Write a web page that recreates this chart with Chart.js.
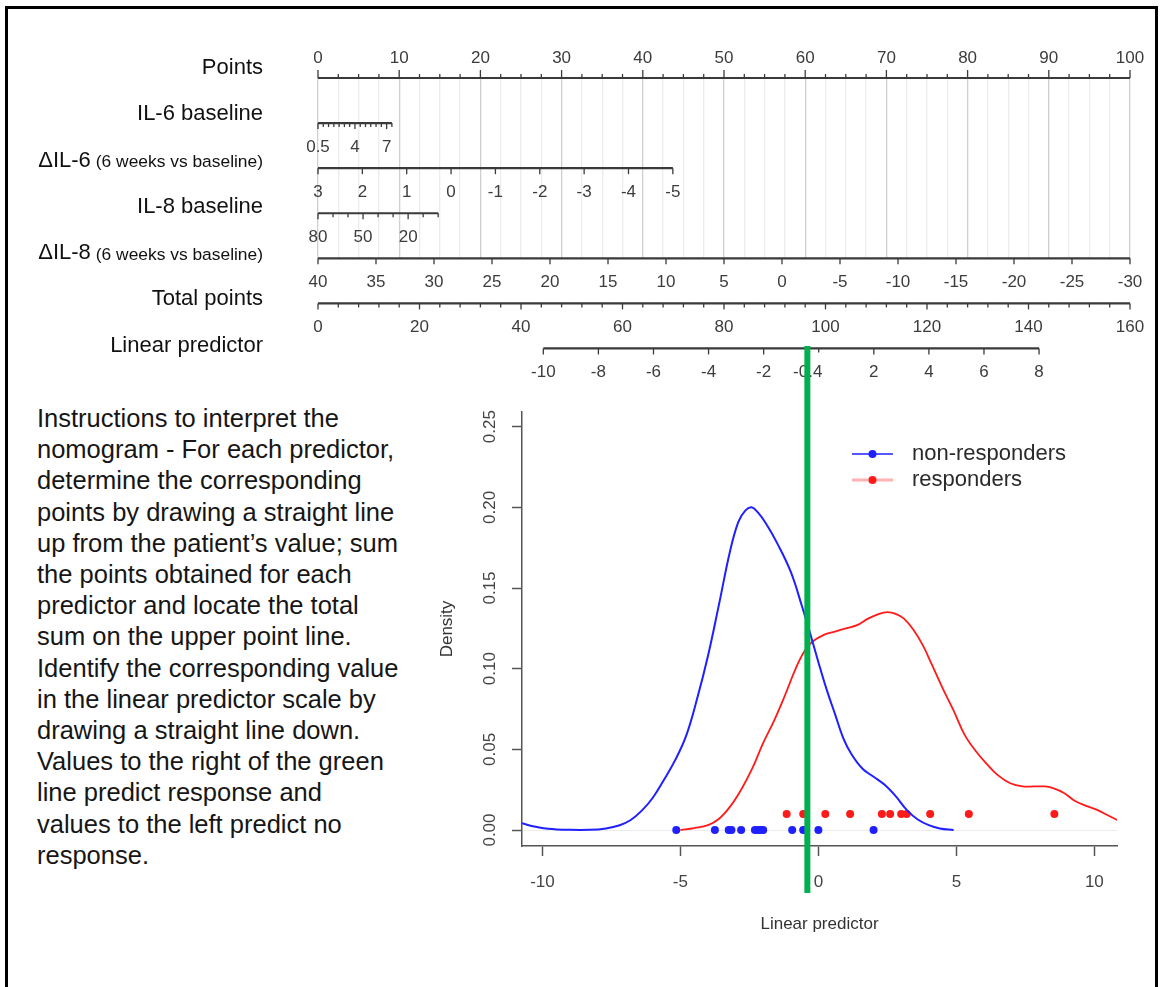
<!DOCTYPE html>
<html>
<head>
<meta charset="utf-8">
<title>Nomogram and density of the linear predictor</title>
<script src="https://cdn.jsdelivr.net/npm/chart.js@4.4.1/dist/chart.umd.min.js"></script>
<style>
  body { margin: 0; background: #fff; font-family: "Liberation Sans", Arial, sans-serif; }
  #frame { position: absolute; left: 5px; top: 6px; width: 1147px; height: 1000px; border: 3px solid #000; }
  #nomo { position: absolute; left: 0; top: 0; }
  #dens { position: absolute; left: 430px; top: 340px; }
  #notes { position: absolute; left: 37px; top: 403px; font-size: 25.5px; line-height: 31.2px; color: #161616; }
</style>
</head>
<body>
<div id="frame"></div>
<canvas id="nomo" width="1162" height="400"></canvas>
<canvas id="dens" width="732" height="647"></canvas>
<div id="notes">Instructions to interpret the<br>nomogram - For each predictor,<br>determine the corresponding<br>points by drawing a straight line<br>up from the patient’s value; sum<br>the points obtained for each<br>predictor and locate the total<br>sum on the upper point line.<br>Identify the corresponding value<br>in the linear predictor scale by<br>drawing a straight line down.<br>Values to the right of the green<br>line predict response and<br>values to the left predict no<br>response.</div>
<script>
// Nomogram rows (top to bottom)
const rowLabels = ['Points', 'IL-6 baseline', '\u0394IL-6', 'IL-8 baseline', '\u0394IL-8', 'Total points', 'Linear predictor'];
const rowNotes = ['', '', '(6 weeks vs baseline)', '', '(6 weeks vs baseline)', '', ''];
// each row's value range and the points it covers on the Points scale
const rowValueStart = [0, 0.5, 3, 80, 40, 0, -10];
const rowValueEnd = [100, 7.5, -5, 0, -30, 160, 8];
const rowPointsStart = [0, 0, 0, 0, 0, 0, 27.75];
const rowPointsEnd = [100, 9.1, 43.7, 14.8, 100, 100, 88.8];
const rowTickStep = [2.5, 0.5, 1, 10, 5, 4, 2];
const rowTickLabels = [
  [0, 10, 20, 30, 40, 50, 60, 70, 80, 90, 100],
  [0.5, 4, 7],
  [3, 2, 1, 0, -1, -2, -3, -4, -5],
  [80, 50, 20],
  [40, 35, 30, 25, 20, 15, 10, 5, 0, -5, -10, -15, -20, -25, -30],
  [0, 20, 40, 60, 80, 100, 120, 140, 160],
  [-10, -8, -6, -4, -2, -0.4, 2, 4, 6, 8]
];

// cut-off on the linear predictor (green line)
const cutoff = -0.4;

// Density of the linear predictor
const nonRespX = [-10.75, -10.3, -9.8, -9, -8.3, -7.7, -7.2, -6.8, -6.4, -6, -5.6, -5.2, -4.8, -4.4, -4, -3.6, -3.2, -2.9, -2.65, -2.42, -2.2, -1.9, -1.5, -1, -0.6, -0.3, 0, 0.3, 0.6, 0.9, 1.2, 1.6, 2, 2.4, 2.8, 3.2, 3.6, 4, 4.4, 4.9];
const nonRespDensity = [0.0042, 0.0022, 0.0008, 0.0001, 0.0001, 0.001, 0.003, 0.0062, 0.012, 0.02, 0.031, 0.043, 0.058, 0.081, 0.108, 0.14, 0.173, 0.191, 0.198, 0.2, 0.197, 0.19, 0.178, 0.16, 0.139, 0.122, 0.104, 0.087, 0.072, 0.057, 0.047, 0.038, 0.033, 0.028, 0.021, 0.0125, 0.0065, 0.003, 0.001, 0];
const respX = [-5, -4.5, -4, -3.6, -3.2, -2.8, -2.4, -2, -1.6, -1.2, -0.8, -0.5, -0.2, 0.2, 0.6, 1, 1.4, 1.8, 2.2, 2.5, 2.8, 3.1, 3.45, 3.8, 4.1, 4.5, 4.9, 5.3, 5.7, 6.1, 6.5, 6.95, 7.4, 7.8, 8.2, 8.5, 8.9, 9.3, 9.7, 10.1, 10.5, 10.83];
const respDensity = [0, 0.0012, 0.003, 0.007, 0.0145, 0.025, 0.038, 0.054, 0.068, 0.084, 0.101, 0.111, 0.117, 0.121, 0.123, 0.125, 0.127, 0.131, 0.134, 0.135, 0.134, 0.131, 0.124, 0.114, 0.103, 0.088, 0.074, 0.059, 0.049, 0.041, 0.034, 0.029, 0.027, 0.027, 0.027, 0.026, 0.023, 0.018, 0.015, 0.0125, 0.009, 0.0062];
// individual patients (rug points)
const nonRespScores = [-5.15, -3.75, -3.25, -3.15, -2.8, -2.3, -2.2, -2.1, -2.0, -0.95, -0.55, -0.45, 0.0, 2.0];
const respScores = [-1.15, -0.55, 0.25, 1.15, 2.3, 2.6, 3.0, 3.2, 4.05, 5.45, 8.55];

const FONT = '"Liberation Sans", Arial, sans-serif';
Chart.defaults.font.family = FONT;
Chart.defaults.animation = false;

// value on a row -> position on the Points scale
function toPoints(i, v) {
  const vs = rowValueStart[i], ve = rowValueEnd[i];
  return rowPointsStart[i] + (v - vs) / (ve - vs) * (rowPointsEnd[i] - rowPointsStart[i]);
}

// draws the tick marks, tick labels and row names of the nomogram
const nomogramAxes = {
  id: 'nomogramAxes',
  afterDatasetsDraw(chart) {
    const { ctx, scales: { x, y } } = chart;
    ctx.save();
    rowLabels.forEach((name, i) => {
      const yPix = y.getPixelForValue(i);
      const up = i === 0; // Points row has its ticks and labels above the line
      const step = rowTickStep[i];
      const dir = rowValueEnd[i] > rowValueStart[i] ? 1 : -1;
      const n = Math.round(Math.abs(rowValueEnd[i] - rowValueStart[i]) / step);

      ctx.strokeStyle = '#3a3a3a';
      ctx.lineWidth = 1.3;
      for (let k = 0; k <= n; k++) {
        const v = rowValueStart[i] + dir * k * step;
        const px = x.getPixelForValue(toPoints(i, v));
        const major = rowTickLabels[i].some(l => Math.abs(l - v) < 1e-9);
        const len = major ? (up ? 8 : 6) : 4;
        ctx.beginPath();
        ctx.moveTo(px, yPix);
        ctx.lineTo(px, up ? yPix - len : yPix + len);
        ctx.stroke();
      }

      ctx.fillStyle = '#3c3c3c';
      ctx.font = '17px ' + FONT;
      ctx.textAlign = 'center';
      ctx.textBaseline = 'middle';
      rowTickLabels[i].forEach(v => {
        const px = x.getPixelForValue(toPoints(i, v));
        ctx.fillText(String(v), px, up ? yPix - 20 : yPix + 24);
      });

      // row name, right aligned left of the scales
      const ly = yPix - 10 + 1.2 * i;
      const right = 263;
      ctx.fillStyle = '#111';
      ctx.textAlign = 'right';
      let nameRight = right;
      if (rowNotes[i]) {
        ctx.font = '17.4px ' + FONT;
        ctx.fillText(rowNotes[i], right, ly + 2);
        nameRight = right - ctx.measureText(rowNotes[i]).width - 5;
      }
      ctx.font = '22px ' + FONT;
      ctx.fillText(name, nameRight, ly);
    });
    ctx.restore();
  }
};

new Chart(document.getElementById('nomo'), {
  type: 'line',
  data: {
    datasets: rowLabels.map((name, i) => ({
      label: name,
      data: [{ x: rowPointsStart[i], y: i }, { x: rowPointsEnd[i], y: i }],
      borderColor: '#3a3a3a',
      borderWidth: 2.2,
      pointRadius: 0,
      clip: false
    }))
  },
  options: {
    responsive: false,
    layout: { padding: { left: 318, right: 32, top: 78, bottom: 141.7 } },
    plugins: { legend: { display: false }, tooltip: { enabled: false } },
    scales: {
      x: {
        type: 'linear', min: 0, max: 100,
        ticks: { display: false, stepSize: 2.5, autoSkip: false },
        grid: {
          drawTicks: false,
          lineWidth: 1.3,
          color: c => (c.tick && c.tick.value % 10 === 0) ? '#cfcfcf' : '#ececec'
        },
        border: { display: false },
        afterFit: s => { s.height = 0; }
      },
      y: { type: 'linear', min: 0, max: 4, reverse: true, display: false }
    }
  },
  plugins: [nomogramAxes]
});

// rotated y tick labels and the legend of the density plot
const densityExtras = {
  id: 'densityExtras',
  afterDraw(chart) {
    const { ctx, scales: { y } } = chart;
    ctx.save();
    ctx.fillStyle = '#444';
    ctx.font = '17px ' + FONT;
    ctx.textAlign = 'center';
    ctx.textBaseline = 'middle';
    y.ticks.forEach(t => {
      ctx.save();
      ctx.translate(y.right - 32, y.getPixelForValue(t.value));
      ctx.rotate(-Math.PI / 2);
      ctx.fillText(t.value.toFixed(2), 0, 0);
      ctx.restore();
    });

    // legend
    const entries = [
      { text: 'non-responders', line: 'rgba(31,31,255,1)', width: 1.5, dot: '#1f1fff' },
      { text: 'responders', line: 'rgba(255,0,0,0.3)', width: 3, dot: '#ff1a1a' }
    ];
    entries.forEach((e, k) => {
      const ly = 114 + k * 26;
      ctx.strokeStyle = e.line;
      ctx.lineWidth = e.width;
      ctx.beginPath(); ctx.moveTo(422, ly); ctx.lineTo(463, ly); ctx.stroke();
      ctx.fillStyle = e.dot;
      ctx.beginPath(); ctx.arc(442.5, ly, 4, 0, Math.PI * 2); ctx.fill();
      ctx.fillStyle = '#2a2a2a';
      ctx.font = '22px ' + FONT;
      ctx.textAlign = 'left';
      ctx.fillText(e.text, 482, ly);
    });
    ctx.restore();
  }
};

new Chart(document.getElementById('dens'), {
  type: 'line',
  data: {
    datasets: [
      {
        label: 'cut-off',
        data: [{ x: cutoff, y: 0.3 }, { x: cutoff, y: -0.039 }],
        borderColor: '#00b04f', borderWidth: 6, pointRadius: 0, clip: false
      },
      {
        label: 'non-responders',
        data: nonRespX.map((v, i) => ({ x: v, y: nonRespDensity[i] })),
        borderColor: '#1f1fff', borderWidth: 2, pointRadius: 0, tension: 0.4
      },
      {
        label: 'responders',
        data: respX.map((v, i) => ({ x: v, y: respDensity[i] })),
        borderColor: '#ff1a1a', borderWidth: 1.8, pointRadius: 0, tension: 0.4
      },
      {
        label: 'non-responders (patients)',
        data: nonRespScores.map(v => ({ x: v, y: 0 })),
        showLine: false, pointRadius: 4, borderWidth: 0,
        backgroundColor: '#1f1fff', pointBackgroundColor: '#1f1fff'
      },
      {
        label: 'responders (patients)',
        data: respScores.map(v => ({ x: v, y: 0.01 })),
        showLine: false, pointRadius: 4, borderWidth: 0,
        backgroundColor: '#ff1a1a', pointBackgroundColor: '#ff1a1a'
      }
    ]
  },
  options: {
    responsive: false,
    layout: { padding: { left: 3, right: 45, top: 72, bottom: 48 } },
    plugins: { legend: { display: false }, tooltip: { enabled: false } },
    scales: {
      x: {
        type: 'linear', min: -10.74, max: 10.82,
        ticks: { stepSize: 5, includeBounds: false, color: '#444', font: { size: 17 }, padding: 16 },
        grid: { drawOnChartArea: false, tickLength: 10, tickColor: '#555', tickWidth: 1.5 },
        border: { color: '#555', width: 1.5 },
        title: { display: true, text: 'Linear predictor', color: '#333', font: { size: 17 }, padding: { top: 4, bottom: 4 } },
        afterFit: s => { s.height = 93; }
      },
      y: {
        type: 'linear', min: -0.0099, max: 0.2591,
        ticks: { stepSize: 0.05, includeBounds: false, display: false },
        grid: {
          tickLength: 10, tickColor: '#555', tickWidth: 1.5,
          color: c => (c.tick && c.tick.value === 0) ? '#ececec' : 'rgba(0,0,0,0)'
        },
        border: { color: '#555', width: 1.5 },
        title: { display: true, text: 'Density', color: '#333', font: { size: 17 }, padding: { top: 4, bottom: 4 } },
        afterFit: s => { s.width = 89; }
      }
    }
  },
  plugins: [densityExtras]
});
</script>
</body>
</html>
